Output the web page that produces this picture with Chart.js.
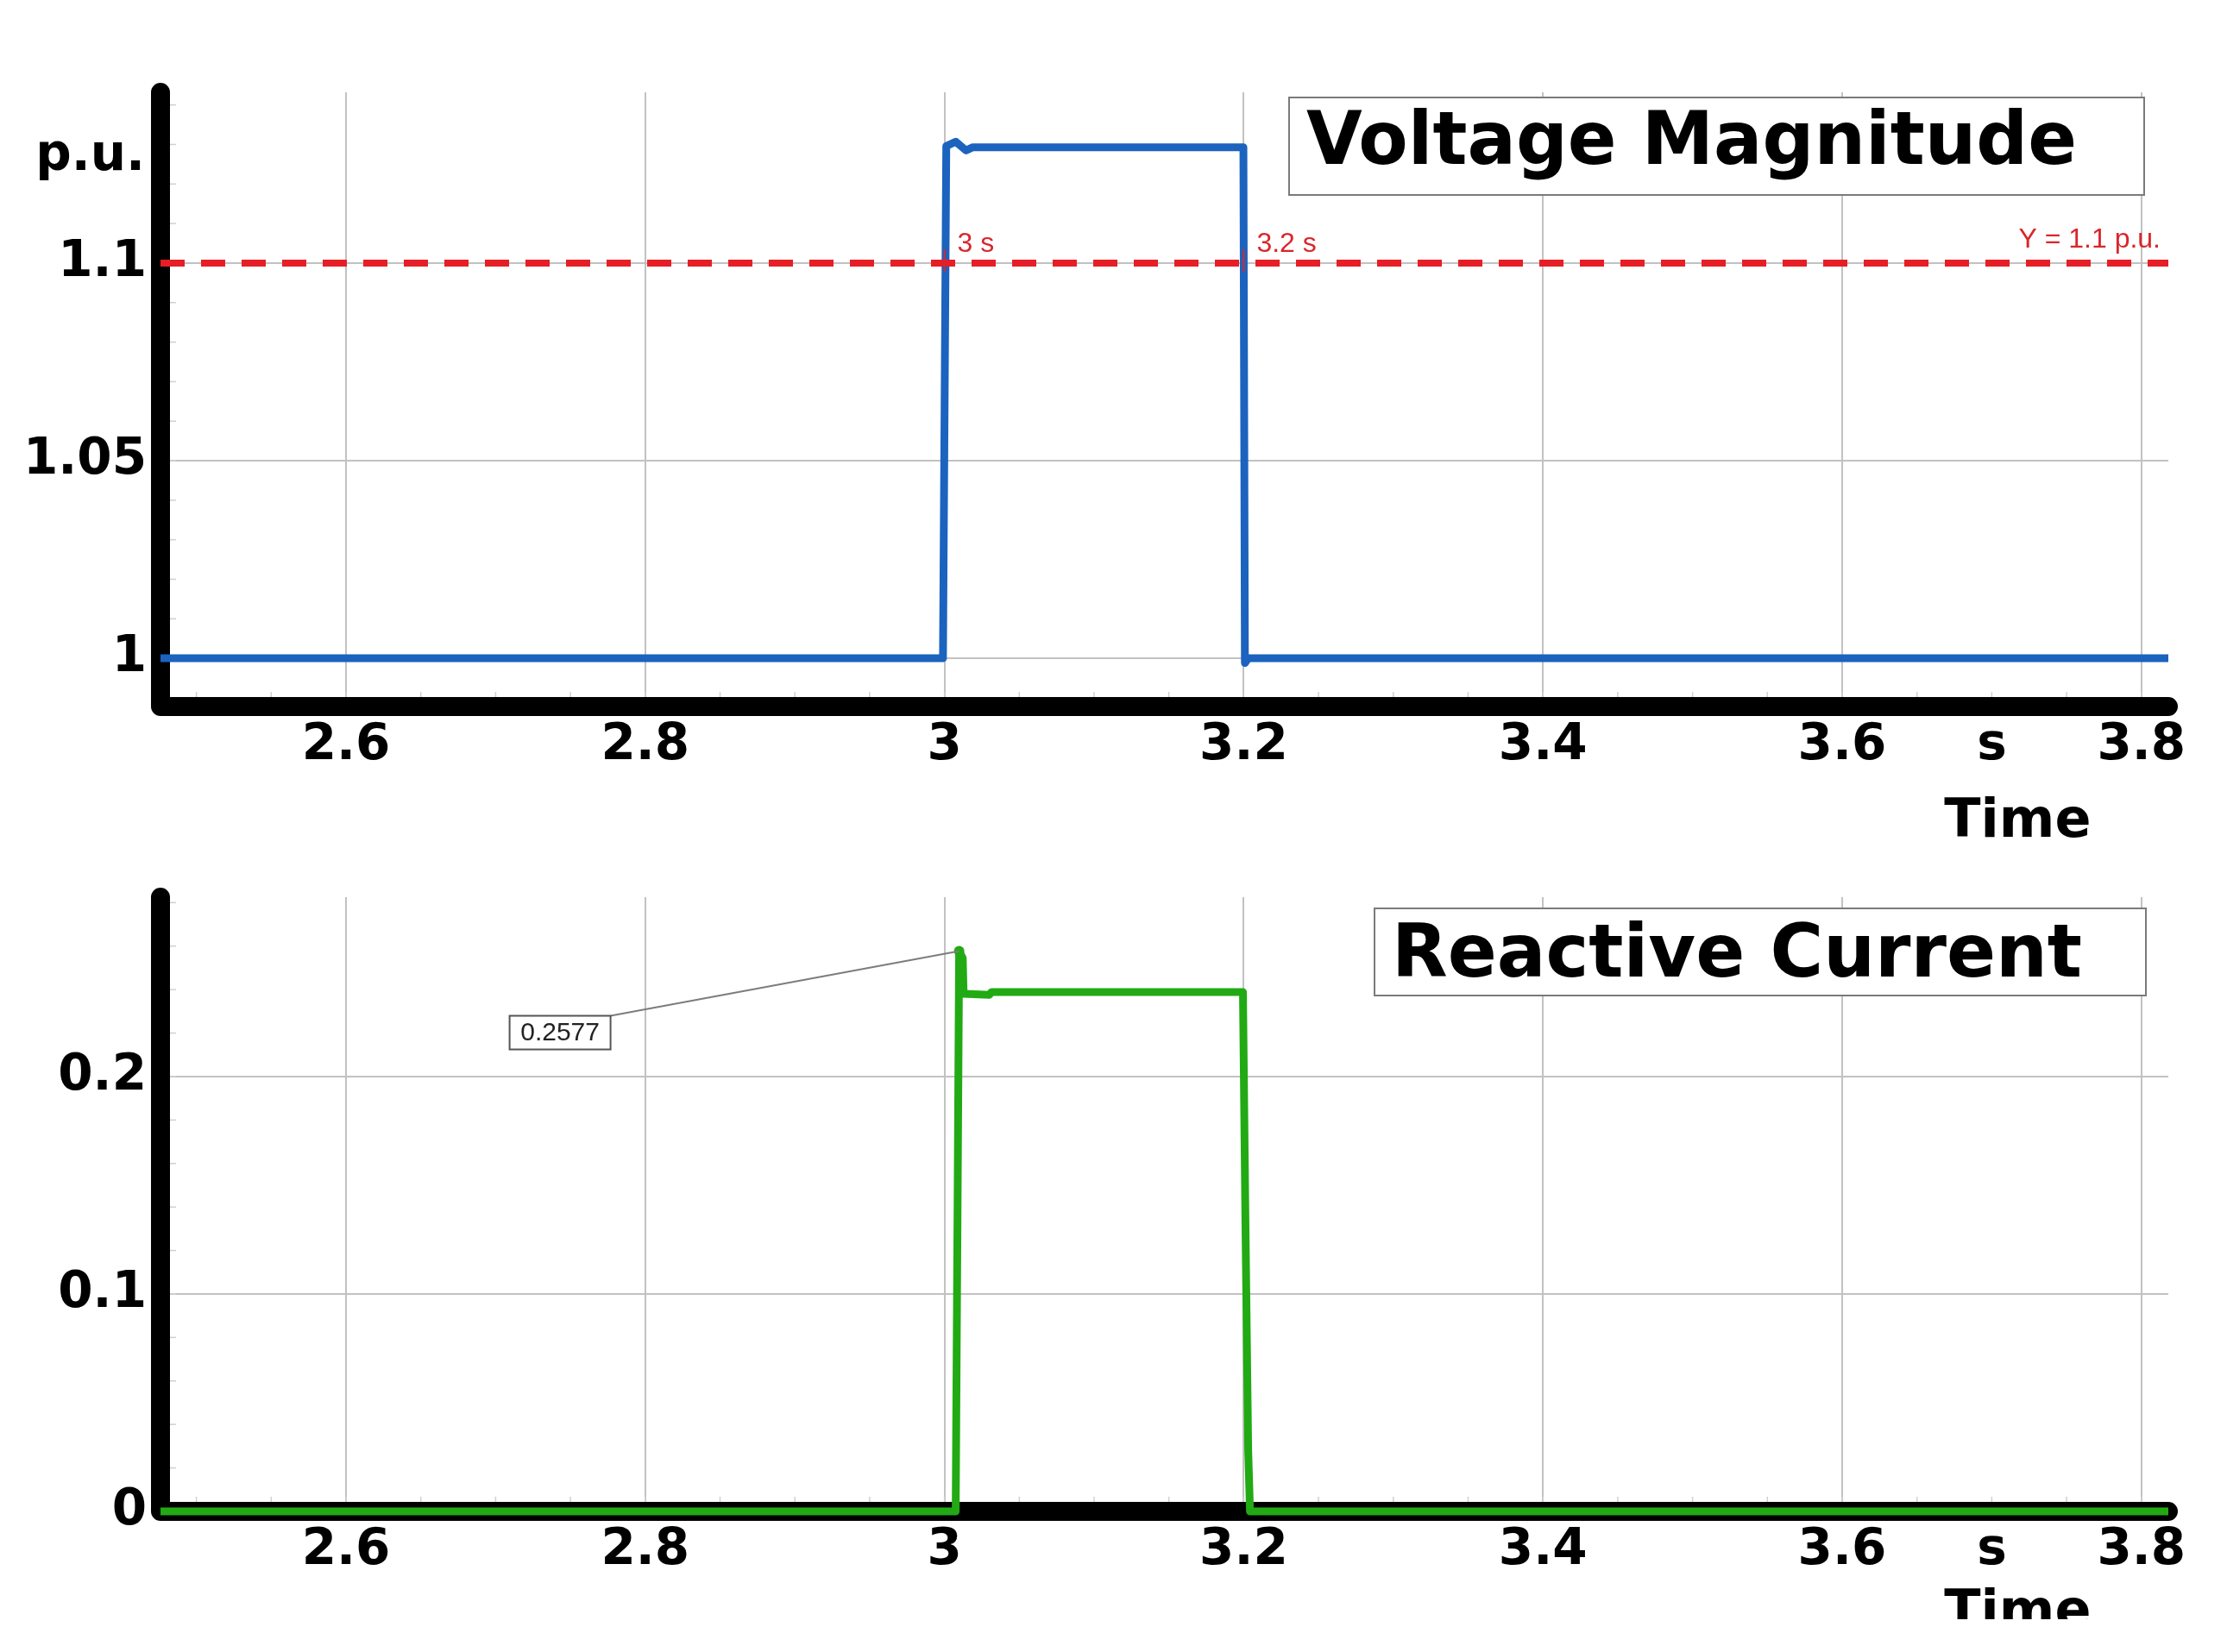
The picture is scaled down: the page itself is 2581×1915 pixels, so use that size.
<!DOCTYPE html>
<html>
<head>
<meta charset="utf-8">
<script src="https://cdn.jsdelivr.net/npm/chart.js@4.4.1/dist/chart.umd.min.js"></script>
<style>
  html, body { margin: 0; padding: 0; background: #fff; }
  body { width: 2581px; height: 1915px; overflow: hidden; }
  canvas { display: block; }
</style>
</head>
<body>
<canvas id="voltChart" width="2581" height="1000" style="width:2581px;height:1000px"></canvas>
<canvas id="curChart" width="2581" height="877" style="width:2581px;height:877px"></canvas>
<script>
/* ---------- data ---------- */
const timeTicks = [2.6, 2.8, 3.0, 3.2, 3.4, 3.6, 3.8];
const unitTick = 3.7;           // the "s" unit sits in the tick row
const unitLabel = 's';
const voltTicks = [1, 1.05, 1.1];
const curTicks = [0, 0.1, 0.2];

// voltage magnitude (p.u.)
const voltT = [2.476, 2.999, 3.0012, 3.0075, 3.0144, 3.019, 3.1998, 3.2008, 3.203, 3.818];
const voltV = [1.0, 1.0, 1.1296, 1.1307, 1.1285, 1.1293, 1.1293, 0.9988, 1.0, 1.0];

// reactive current
const curT = [2.476, 3.0075, 3.0098, 3.0122, 3.0128, 3.030, 3.0315, 3.1995, 3.2012, 3.2030, 3.2042, 3.818];
const curV = [0, 0, 0.2577, 0.2545, 0.2381, 0.2376, 0.2389, 0.2389, 0.1306, 0.028, 0, 0];

// 1.1 p.u. limit line and its crossing markers
const limitV = 1.1;
const limitLabel = 'Y = 1.1 p.u.';
const crossT = [3.0, 3.2];
const crossLabels = ['3 s', '3.2 s'];

// marked peak of the current
const peakT = 3.0098;
const peakV = 0.2577;

/* axis ranges */
const X_MIN = 2.476, X_MAX = 3.818;
const VOLT_MIN = 0.9878, VOLT_MAX = 1.1432;
const CUR_MIN = 0, CUR_MAX = 0.2825;

const BLUE = '#1b63be';
const GREEN = '#22aa14';
const RED = '#e61e26';
const GRID = '#c2c2c2';
const FONT = "'DejaVu Sans', sans-serif";

Chart.defaults.font.family = FONT;
Chart.defaults.color = '#000';

const pts = (xs, ys) => xs.map((x, i) => ({ x, y: ys[i] }));

/* ---------- axes, minor ticks, titles ---------- */
const frame = {
  id: 'frame',
  beforeDatasetsDraw(chart, args, o) {
    const { ctx, chartArea: a, scales: { x, y } } = chart;
    ctx.save();
    ctx.strokeStyle = '#d0d0d0';
    ctx.lineWidth = 1.5;
    const nx = Math.round((X_MAX - 2.45) / 0.05);
    for (let i = 0; i <= nx; i++) {
      const v = 2.5 + i * 0.05;
      if (v > X_MAX) break;
      const px = x.getPixelForValue(v);
      ctx.beginPath(); ctx.moveTo(px, a.bottom); ctx.lineTo(px, a.bottom - 17); ctx.stroke();
    }
    const ny = Math.round((y.max - o.minorY[0]) / o.minorY[1]);
    for (let i = 0; i <= ny; i++) {
      const v = o.minorY[0] + i * o.minorY[1];
      const py = y.getPixelForValue(v);
      ctx.beginPath(); ctx.moveTo(a.left, py); ctx.lineTo(a.left + 18, py); ctx.stroke();
    }
    // heavy black axes with round ends
    ctx.strokeStyle = '#000';
    ctx.lineWidth = 22;
    ctx.lineCap = 'round';
    ctx.lineJoin = 'round';
    ctx.beginPath();
    ctx.moveTo(a.left, a.top);
    ctx.lineTo(a.left, a.bottom);
    ctx.lineTo(a.right, a.bottom);
    ctx.stroke();
    ctx.restore();
  },
  afterDraw(chart, args, o) {
    const { ctx, chartArea: a, scales: { x, y } } = chart;
    ctx.save();
    // titled box
    const b = o.box;
    const bx = a.right - b.fromRight, by = a.top + b.fromTop;
    ctx.fillStyle = '#fff';
    ctx.fillRect(bx, by, b.w, b.h);
    ctx.strokeStyle = '#7a7a7a';
    ctx.lineWidth = 2;
    ctx.strokeRect(bx, by, b.w, b.h);
    ctx.fillStyle = '#000';
    ctx.font = `bold 85px ${FONT}`;
    ctx.textAlign = 'left';
    ctx.textBaseline = 'alphabetic';
    ctx.fillText(b.text, bx + 20, by + b.base, b.maxW);

    // x-axis title
    ctx.font = `bold 62px ${FONT}`;
    ctx.textAlign = 'center';
    ctx.fillText('Time', x.getPixelForValue(unitTick) + 30, a.bottom + o.timeBase);

    if (o.unitY) {
      ctx.font = `bold 58px ${FONT}`;
      ctx.textAlign = 'right';
      ctx.fillText(o.unitY, a.left - 18, a.top + 90);
    }

    if (o.limit) {
      const ly = y.getPixelForValue(limitV);
      ctx.fillStyle = '#d9262c';
      ctx.strokeStyle = '#d9262c';
      ctx.font = "32px 'Liberation Sans', sans-serif";
      ctx.textAlign = 'left';
      crossT.forEach((t, i) => {
        const px = x.getPixelForValue(t);
        ctx.lineWidth = 2;
        ctx.beginPath(); ctx.moveTo(px, ly - 16); ctx.lineTo(px, ly + 10); ctx.stroke();
        ctx.fillText(crossLabels[i], px + 15, ly - 13);
      });
      ctx.textAlign = 'right';
      ctx.fillText(limitLabel, a.right - 9, ly - 18);
    }

    if (o.peak) {
      const px = x.getPixelForValue(peakT), py = y.getPixelForValue(peakV);
      const w = 117, h = 39;
      const left = px - 521, top = py + 75;
      ctx.strokeStyle = '#7d7d7d';
      ctx.lineWidth = 2;
      ctx.beginPath(); ctx.moveTo(left + w, top); ctx.lineTo(px, py); ctx.stroke();
      ctx.fillStyle = '#fff';
      ctx.fillRect(left, top, w, h);
      ctx.strokeStyle = '#555';
      ctx.strokeRect(left, top, w, h);
      ctx.fillStyle = '#222';
      ctx.font = "30px 'Liberation Sans', sans-serif";
      ctx.textAlign = 'center';
      ctx.textBaseline = 'middle';
      ctx.fillText(peakV.toFixed(4), left + w / 2, top + h / 2 + 1);
    }
    ctx.restore();
  }
};

// the plot frame is set by the layout padding, not by label overflow
function noOverflow(s) {
  s.paddingTop = 0; s.paddingBottom = 0; s.paddingLeft = 0; s.paddingRight = 0;
}

function xAxis(canvasH, bottom) {
  return {
    type: 'linear',
    min: X_MIN, max: X_MAX,
    afterBuildTicks: (s) => {
      s.ticks = timeTicks.concat([unitTick]).sort((p, q) => p - q).map((v) => ({ value: v }));
    },
    afterFit: (s) => { s.height = canvasH - bottom; noOverflow(s); },
    border: { display: false },
    grid: {
      drawTicks: false,
      lineWidth: 2,
      color: (c) => (c.tick && c.tick.value === unitTick) ? 'rgba(0,0,0,0)' : GRID,
    },
    ticks: {
      autoSkip: false,
      maxRotation: 0,
      padding: 11,
      font: { size: 58, weight: 'bold' },
      color: '#000',
      callback: (v) => v === unitTick ? unitLabel : String(v),
    },
  };
}

function yAxis(min, max, tickVals) {
  return {
    type: 'linear',
    min, max,
    afterBuildTicks: (s) => { s.ticks = tickVals.map((v) => ({ value: v })); },
    afterFit: (s) => { s.width = 186; noOverflow(s); },
    border: { display: false },
    grid: { drawTicks: false, lineWidth: 2, color: GRID },
    ticks: {
      padding: 16,
      font: { size: 58, weight: 'bold' },
      color: '#000',
      callback: (v) => String(v),
    },
  };
}

const common = {
  responsive: false,
  animation: false,
  events: [],
  elements: { point: { radius: 0 }, line: { tension: 0 } },
};

/* ---------- voltage magnitude ---------- */
new Chart(document.getElementById('voltChart'), {
  type: 'line',
  data: {
    datasets: [
      {
        label: 'limit',
        data: [{ x: X_MIN, y: limitV }, { x: X_MAX, y: limitV }],
        borderColor: RED,
        borderWidth: 8,
        borderDash: [28, 19],
        pointRadius: 0,
        order: 0,
        clip: false,
      },
      {
        label: 'Voltage Magnitude',
        data: pts(voltT, voltV),
        borderColor: BLUE,
        borderWidth: 9,
        borderJoinStyle: 'round',
        pointRadius: 0,
        order: 1,
        clip: false,
      },
    ],
  },
  options: {
    ...common,
    layout: { padding: { top: 107, right: 68, left: 0, bottom: 0 } },
    scales: { x: xAxis(1000, 819), y: yAxis(VOLT_MIN, VOLT_MAX, voltTicks) },
    plugins: {
      legend: { display: false },
      tooltip: { enabled: false },
      frame: {
        minorY: [0.99, 0.01],
        timeBase: 151,
        unitY: 'p.u.',
        limit: true,
        box: { text: 'Voltage Magnitude', fromRight: 1019, fromTop: 6, w: 991, h: 113, base: 77, maxW: 893 },
      },
    },
  },
  plugins: [frame],
});

/* ---------- reactive current ---------- */
new Chart(document.getElementById('curChart'), {
  type: 'line',
  data: {
    datasets: [
      {
        label: 'peak',
        data: [{ x: peakT, y: peakV }],
        showLine: false,
        pointRadius: 6,
        pointBackgroundColor: GREEN,
        pointBorderWidth: 0,
        order: 0,
      },
      {
        label: 'Reactive Current',
        data: pts(curT, curV),
        borderColor: GREEN,
        borderWidth: 9,
        borderJoinStyle: 'round',
        pointRadius: 0,
        order: 1,
        clip: false,
      },
    ],
  },
  options: {
    ...common,
    layout: { padding: { top: 40, right: 68, left: 0, bottom: 0 } },
    scales: { x: xAxis(877, 752), y: yAxis(CUR_MIN, CUR_MAX, curTicks) },
    plugins: {
      legend: { display: false },
      tooltip: { enabled: false },
      frame: {
        minorY: [0.02, 0.02],
        timeBase: 135,
        unitY: null,
        limit: false,
        peak: true,
        box: { text: 'Reactive Current', fromRight: 920, fromTop: 13, w: 894, h: 101, base: 79, maxW: 800 },
      },
    },
  },
  plugins: [frame],
});
</script>
</body>
</html>
